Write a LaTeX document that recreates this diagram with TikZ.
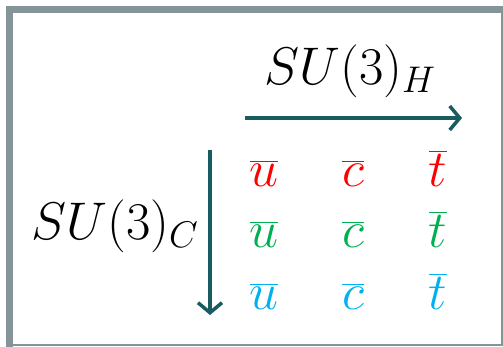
\RequirePackage{fix-cm}
\documentclass[tikz,border=0pt]{standalone}
\usepackage{amsmath}
\usepackage{tikz}
\usetikzlibrary{arrows.meta,positioning}

\definecolor{framegray}{RGB}{132,148,153}
\definecolor{axisteal}{RGB}{24,92,98}
\definecolor{qred}{RGB}{255,0,0}
\definecolor{qgreen}{RGB}{0,176,80}
\definecolor{qblue}{RGB}{0,176,240}

\begin{document}
\begin{tikzpicture}[x=1pt, y=1pt,
        group/.style={font=\fontsize{53}{60}\selectfont, anchor=base, inner sep=0pt},
        quark/.style={font=\fontsize{52}{60}\selectfont, anchor=base, inner sep=0pt},
        axis/.style={-{Straight Barb[length=10pt, width=24pt, line width=3.5pt]}, line width=3.5pt, draw=axisteal}
      ]
      \useasboundingbox (0,0) rectangle (503,347);
      % frame
      \draw[framegray, line width=1.5pt] (13,2) -- (502,2) -- (502,341);
      \draw[framegray, line width=7pt, miter limit=4] (9.5,0) -- (9.5,337.5) -- (503,337.5);
      % group labels
      \node[group] (hlab) at (350,262) {$SU(3)_H$};
      \node[group] (clab) at (115,107) {$SU(3)_C$};
      % axes
      \coordinate (hstart) at (245,229);
      \coordinate (hend) at (462,229);
      \coordinate (cstart) at (210,197);
      \coordinate (cend) at (210,32);
      \draw[axis] (hstart) -- (hend);
      \draw[axis] (cstart) -- (cend);
      % antiquarks
      \node[quark, text=qred] (ur) at (264,160) {$\overline{u}$};
      \node[quark, text=qred] (cr) at (353,160) {$\overline{c}$};
      \node[quark, text=qred] (tr) at (438,160) {$\overline{t}$};
      \node[quark, text=qgreen] (ug) at (264,99) {$\overline{u}$};
      \node[quark, text=qgreen] (cg) at (353,99) {$\overline{c}$};
      \node[quark, text=qgreen] (tg) at (438,99) {$\overline{t}$};
      \node[quark, text=qblue] (ub) at (264,37) {$\overline{u}$};
      \node[quark, text=qblue] (cb) at (353,37) {$\overline{c}$};
      \node[quark, text=qblue] (tb) at (438,37) {$\overline{t}$};
    \end{tikzpicture}
\end{document}
